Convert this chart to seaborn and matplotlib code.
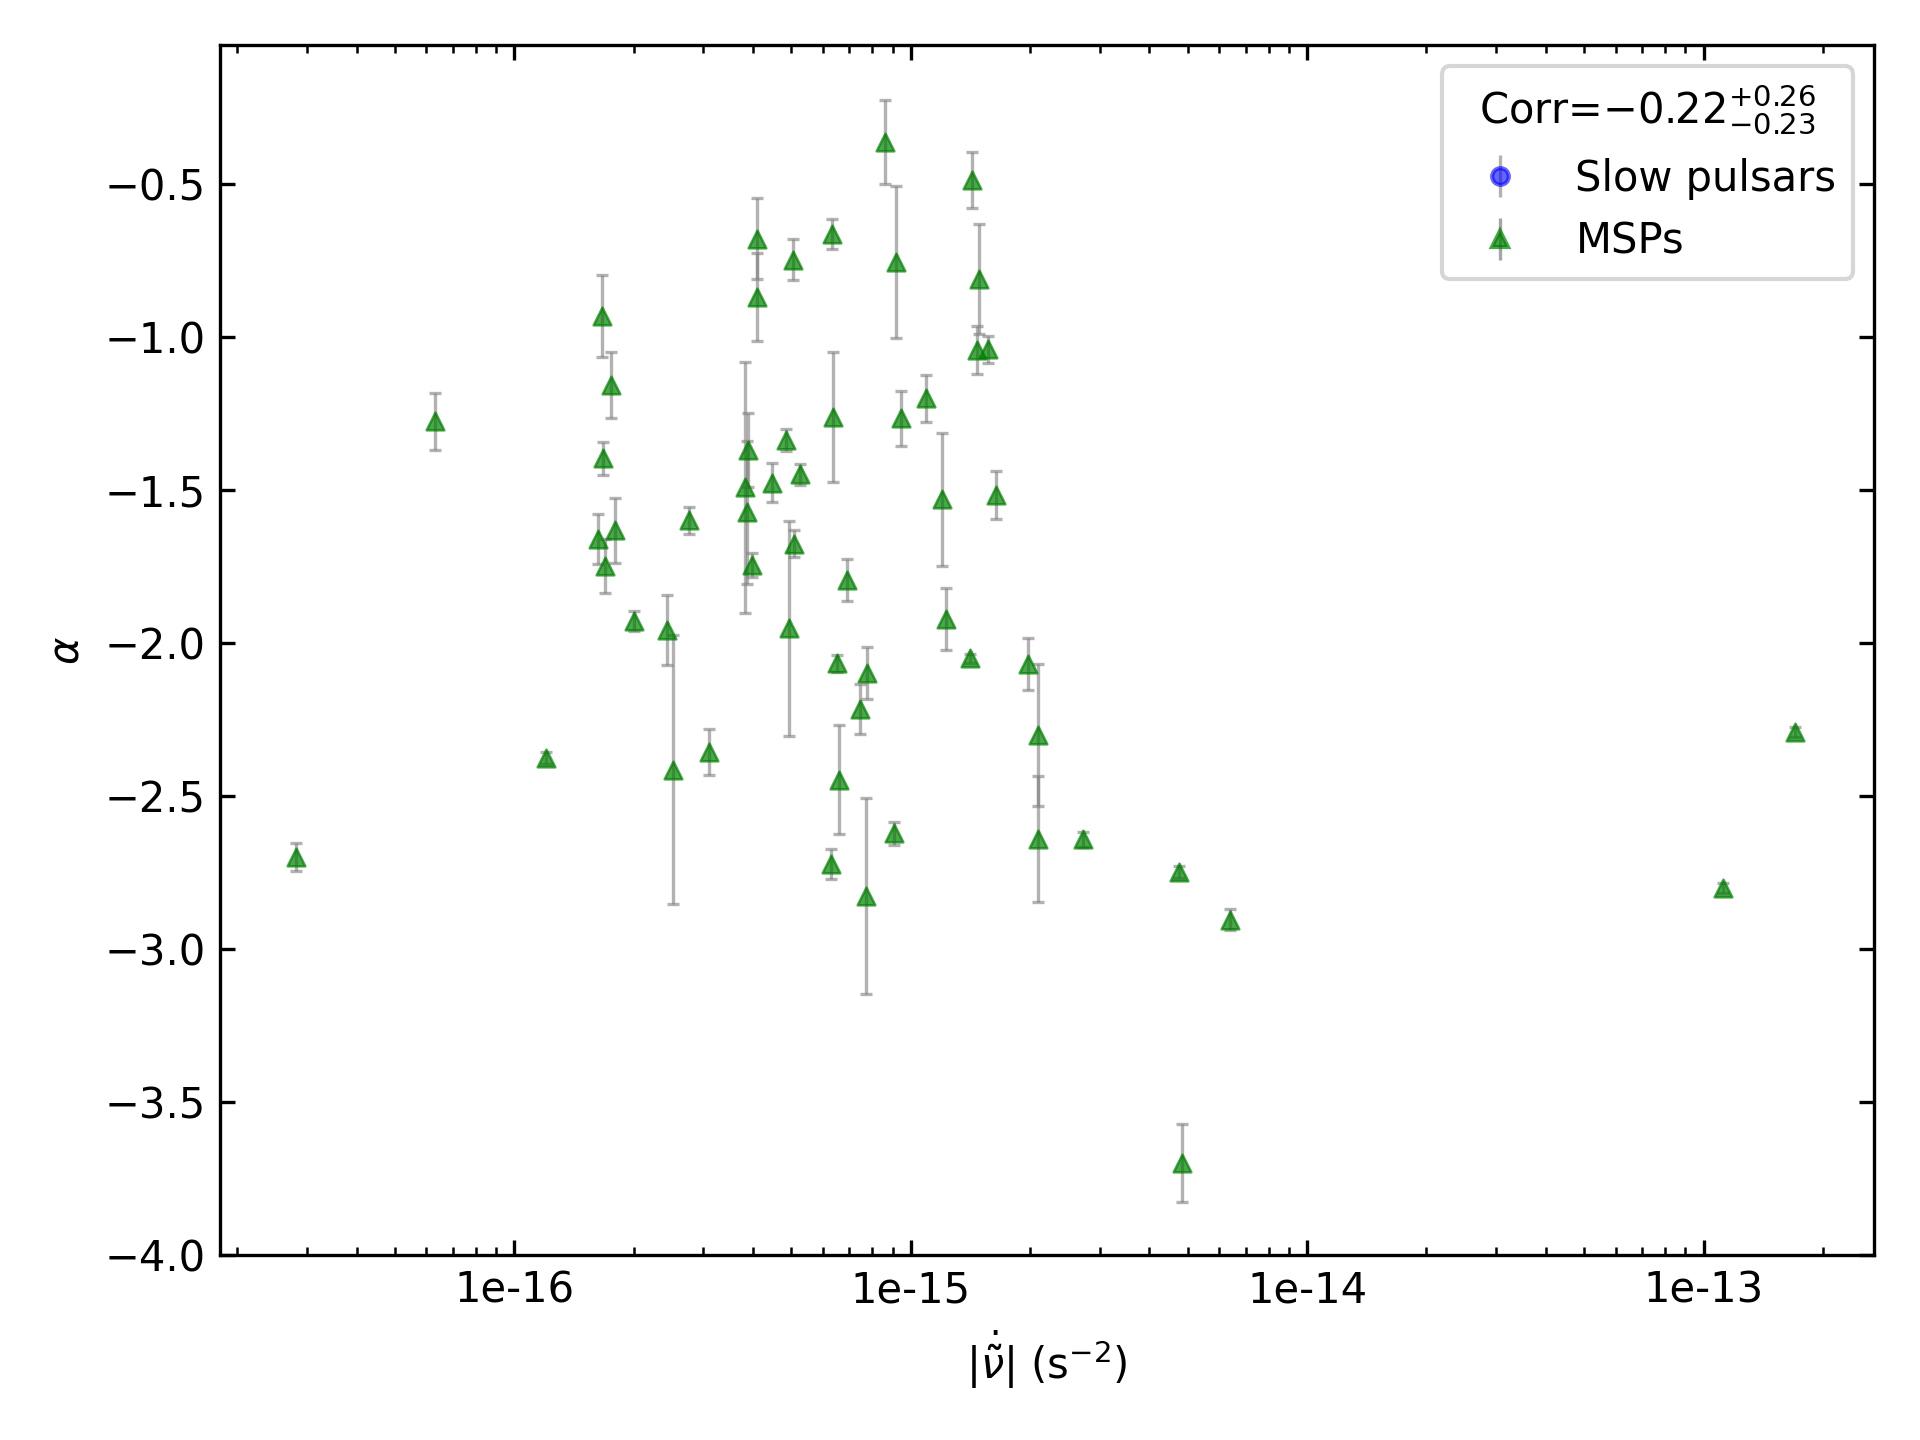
import numpy as np
import seaborn as sns
import matplotlib
matplotlib.use("Agg")
import matplotlib.pyplot as plt
from matplotlib import ticker

# MSP sample: |nu-tilde-dot| (s^-2), spectral index alpha and its 1-sigma error
nudot = [2.81e-17, 6.31e-17, 1.20e-16, 1.63e-16, 1.66e-16, 1.67e-16, 1.69e-16, 1.75e-16,
         1.79e-16, 2.01e-16, 2.43e-16, 2.51e-16, 2.76e-16, 3.10e-16, 3.83e-16, 3.88e-16,
         3.86e-16, 3.97e-16, 4.09e-16, 4.09e-16, 4.47e-16, 4.84e-16, 5.27e-16, 5.04e-16,
         4.93e-16, 5.09e-16, 6.35e-16, 6.34e-16, 6.59e-16, 6.31e-16, 6.52e-16, 6.89e-16,
         7.46e-16, 7.76e-16, 7.73e-16, 8.59e-16, 9.10e-16, 9.18e-16, 9.46e-16, 1.09e-15,
         1.20e-15, 1.23e-15, 1.41e-15, 1.43e-15, 1.47e-15, 1.49e-15, 1.57e-15, 1.64e-15,
         1.98e-15, 2.10e-15, 2.10e-15, 2.72e-15, 4.75e-15, 4.83e-15, 6.40e-15, 1.12e-13,
         1.70e-13]
alpha = [-2.70, -1.276, -2.376, -1.662, -0.932, -1.397, -1.749, -1.158,
         -1.633, -1.930, -1.959, -2.414, -1.600, -2.356, -1.492, -1.370,
         -1.574, -1.746, -0.680, -0.870, -1.477, -1.336, -1.450, -0.748,
         -1.953, -1.676, -1.262, -0.664, -2.448, -2.723, -2.067, -1.795,
         -2.217, -2.099, -2.827, -0.363, -2.622, -0.755, -1.267, -1.201,
         -1.531, -1.923, -2.051, -0.488, -1.043, -0.812, -1.041, -1.517,
         -2.070, -2.301, -2.642, -2.642, -2.748, -3.700, -2.904, -2.800,
         -2.292]
alpha_err = [0.045, 0.093, 0.020, 0.082, 0.133, 0.054, 0.088, 0.107,
             0.105, 0.033, 0.115, 0.439, 0.043, 0.075, 0.411, 0.120,
             0.235, 0.039, 0.132, 0.144, 0.064, 0.036, 0.033, 0.068,
             0.351, 0.045, 0.212, 0.048, 0.178, 0.049, 0.028, 0.070,
             0.081, 0.086, 0.320, 0.138, 0.037, 0.249, 0.090, 0.076,
             0.218, 0.102, 0.015, 0.093, 0.078, 0.180, 0.045, 0.078,
             0.085, 0.232, 0.206, 0.025, 0.020, 0.128, 0.034, 0.016,
             0.016]

corr_label = r"Corr=$-0.22^{+0.26}_{-0.23}$"

sns.set_style("ticks", {"axes.edgecolor": "black", "text.color": "black",
                        "axes.labelcolor": "black", "xtick.color": "black",
                        "ytick.color": "black"})
plt.rcParams["font.family"] = ["DejaVu Sans"]
plt.rcParams["mathtext.fontset"] = "dejavusans"

fig, ax = plt.subplots(figsize=(6.4, 4.8), dpi=300)
fig.subplots_adjust(left=0.1146, right=0.976, bottom=0.1285, top=0.9685)

# error bars first, triangles on top
ax.errorbar(nudot, alpha, yerr=alpha_err, fmt="none", ecolor="gray", alpha=0.6,
            elinewidth=0.8, capsize=1.5, capthick=0.8, zorder=2)
sns.scatterplot(x=nudot, y=alpha, marker="^", s=18, color="green", alpha=0.7,
                edgecolor="green", linewidth=0.6, ax=ax, zorder=3, legend=False)

# legend entries (no slow pulsars in this sample)
ax.errorbar([], [], yerr=[], fmt="o", color="blue", alpha=0.6, ecolor="gray",
            markersize=4, elinewidth=0.8, capsize=0, label="Slow pulsars")
ax.errorbar([], [], yerr=[], fmt="^", color="green", alpha=0.7, ecolor="gray",
            markersize=4, elinewidth=0.8, capsize=1.5, capthick=0.8, label="MSPs")

ax.set_xscale("log")
ax.set_xlim(1.81e-17, 2.69e-13)
ax.set_ylim(-4.0, -0.048)
ax.set_yticks(np.arange(-4.0, -0.49, 0.5))
ax.xaxis.set_major_formatter(ticker.FuncFormatter(lambda v, p: f"{v:g}"))
ax.xaxis.set_minor_formatter(ticker.NullFormatter())
ax.tick_params(which="both", direction="in", top=True, right=True, colors="black")
for sp in ax.spines.values():
    sp.set_color("black")

ax.set_xlabel(r"$|\dot{\tilde{\nu}}|$ (s$^{-2}$)")
ax.set_ylabel(r"$\alpha$")

ax.legend(title=corr_label, loc="upper right", fontsize=10, title_fontsize=10)

plt.savefig("out.png", dpi=300)
